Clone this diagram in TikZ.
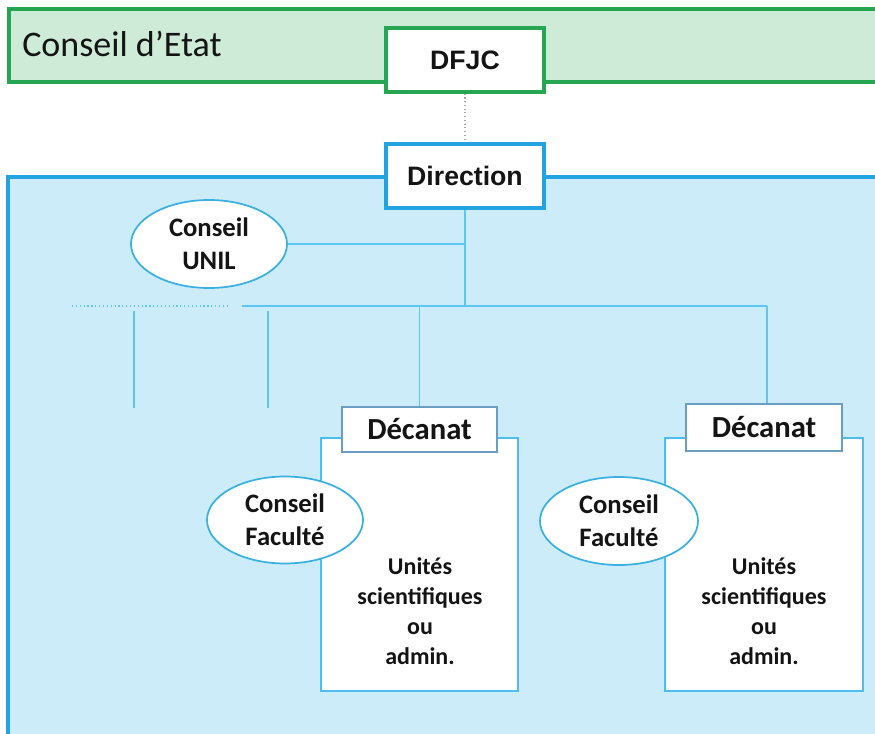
\documentclass[tikz,border=0pt]{standalone}
\usepackage{fontspec}
\setmainfont{Carlito}
\newfontfamily\arialf{Liberation Sans}
\usetikzlibrary{shapes.geometric}
\definecolor{gfill}{HTML}{CDEBD6}
\definecolor{gline}{HTML}{26A553}
\definecolor{bfill}{HTML}{CCECFA}
\definecolor{bline}{HTML}{23A3E0}
\definecolor{cline}{HTML}{5CC8F2}
\definecolor{tabline}{HTML}{6B9DC0}
\definecolor{bodyline}{HTML}{4DBDEE}
\definecolor{ellline}{HTML}{3AB0E0}
\definecolor{txt}{HTML}{141414}
\tikzset{
  headbox/.style={draw, fill=white, minimum width=118.5pt, minimum height=48pt, inner sep=0pt, font=\arialf\bfseries\fontsize{20}{24}\selectfont, text=txt},
  conn/.style={draw=cline, line width=0.9pt},
  connd/.style={draw=cline, line width=0.9pt, dotted},
  council/.style={ellipse, draw=ellline, line width=1.3pt, fill=white, inner sep=0pt, align=center, font=\bfseries\fontsize{20}{24.5}\selectfont, text=txt},
  tabbox/.style={draw=tabline, line width=1pt, fill=white, inner sep=0pt, font=\bfseries\fontsize{23}{26}\selectfont, text=txt},
  bodybox/.style={draw=bodyline, line width=1.4pt, fill=white, inner sep=0pt, minimum height=189.75pt},
  unitxt/.style={align=center, font=\bfseries\fontsize{18}{22.5}\selectfont, text=txt}
}
\begin{document}
\begin{tikzpicture}[x=0.75pt,y=-0.75pt]
\useasboundingbox (0,0) rectangle (875,734);
\clip (0,0) rectangle (875,734);
\fill[white] (0,0) rectangle (875,734);
% Conseil d'Etat band
\draw[draw=gline, fill=gfill, line width=2.4pt] (9,9) rectangle (885,82);
\node[anchor=base west, font=\fontsize{27}{30}\selectfont, text=txt, inner sep=0pt] (ce) at (22,57) {Conseil d’Etat};
% university area
\draw[draw=bline, fill=bfill, line width=2.6pt] (8,177) rectangle (885,745);
% nodes
\node[headbox, draw=gline, line width=2.6pt] (dfjc) at (465,60) {DFJC};
\node[headbox, draw=bline, line width=2.6pt] (dir) at (465,176) {Direction};
\node[council, minimum width=117pt, minimum height=66pt] (unil) at (209,244) {Conseil\\UNIL};
% connectors
\draw[gray!70, line width=0.8pt, dotted] (dfjc.south) -- (dir.north);
\coordinate (j1) at (unil.east -| dir.south);
\coordinate (j2) at (465,306);
\coordinate (hl) at (242,306);
\coordinate (hr) at (767,306);
\coordinate (dl) at (72,306);
\coordinate (dr) at (230,306);
\coordinate (v1a) at (134,311);
\coordinate (v1b) at (134,408);
\coordinate (v2a) at (268,311);
\coordinate (v2b) at (268,408);
\draw[conn] (dir.south) -- (j2);
\draw[conn] (unil.east) -- (j1);
\draw[conn] (hl) -- (hr);
\draw[connd] (dl) -- (dr);
\draw[conn] (v1a) -- (v1b);
\draw[conn] (v2a) -- (v2b);
% faculty 1
\node[bodybox, minimum width=147.75pt] (body1) at (419.5,564.5) {};
\node[tabbox, minimum width=116.25pt, minimum height=33.75pt] (tab1) at (419.5,429.5) {Décanat};
\node[council, minimum width=117pt, minimum height=65.25pt] (fac1) at (285,520) {Conseil\\Faculté};
\node[unitxt] (u1) at (420,611) {Unités\\scientifiques\\ou\\admin.};
% faculty 2
\node[bodybox, minimum width=148.5pt] (body2) at (764,564.5) {};
\node[tabbox, minimum width=117pt, minimum height=35.25pt] (tab2) at (764,427.5) {Décanat};
\node[council, minimum width=118.5pt, minimum height=66pt] (fac2) at (619,521) {Conseil\\Faculté};
\node[unitxt] (u2) at (764,611) {Unités\\scientifiques\\ou\\admin.};
% drops to deans
\draw[conn] (tab1.north |- hl) -- (tab1.north);
\draw[conn] (hr) -- (hr |- tab2.north);
\end{tikzpicture}
\end{document}
